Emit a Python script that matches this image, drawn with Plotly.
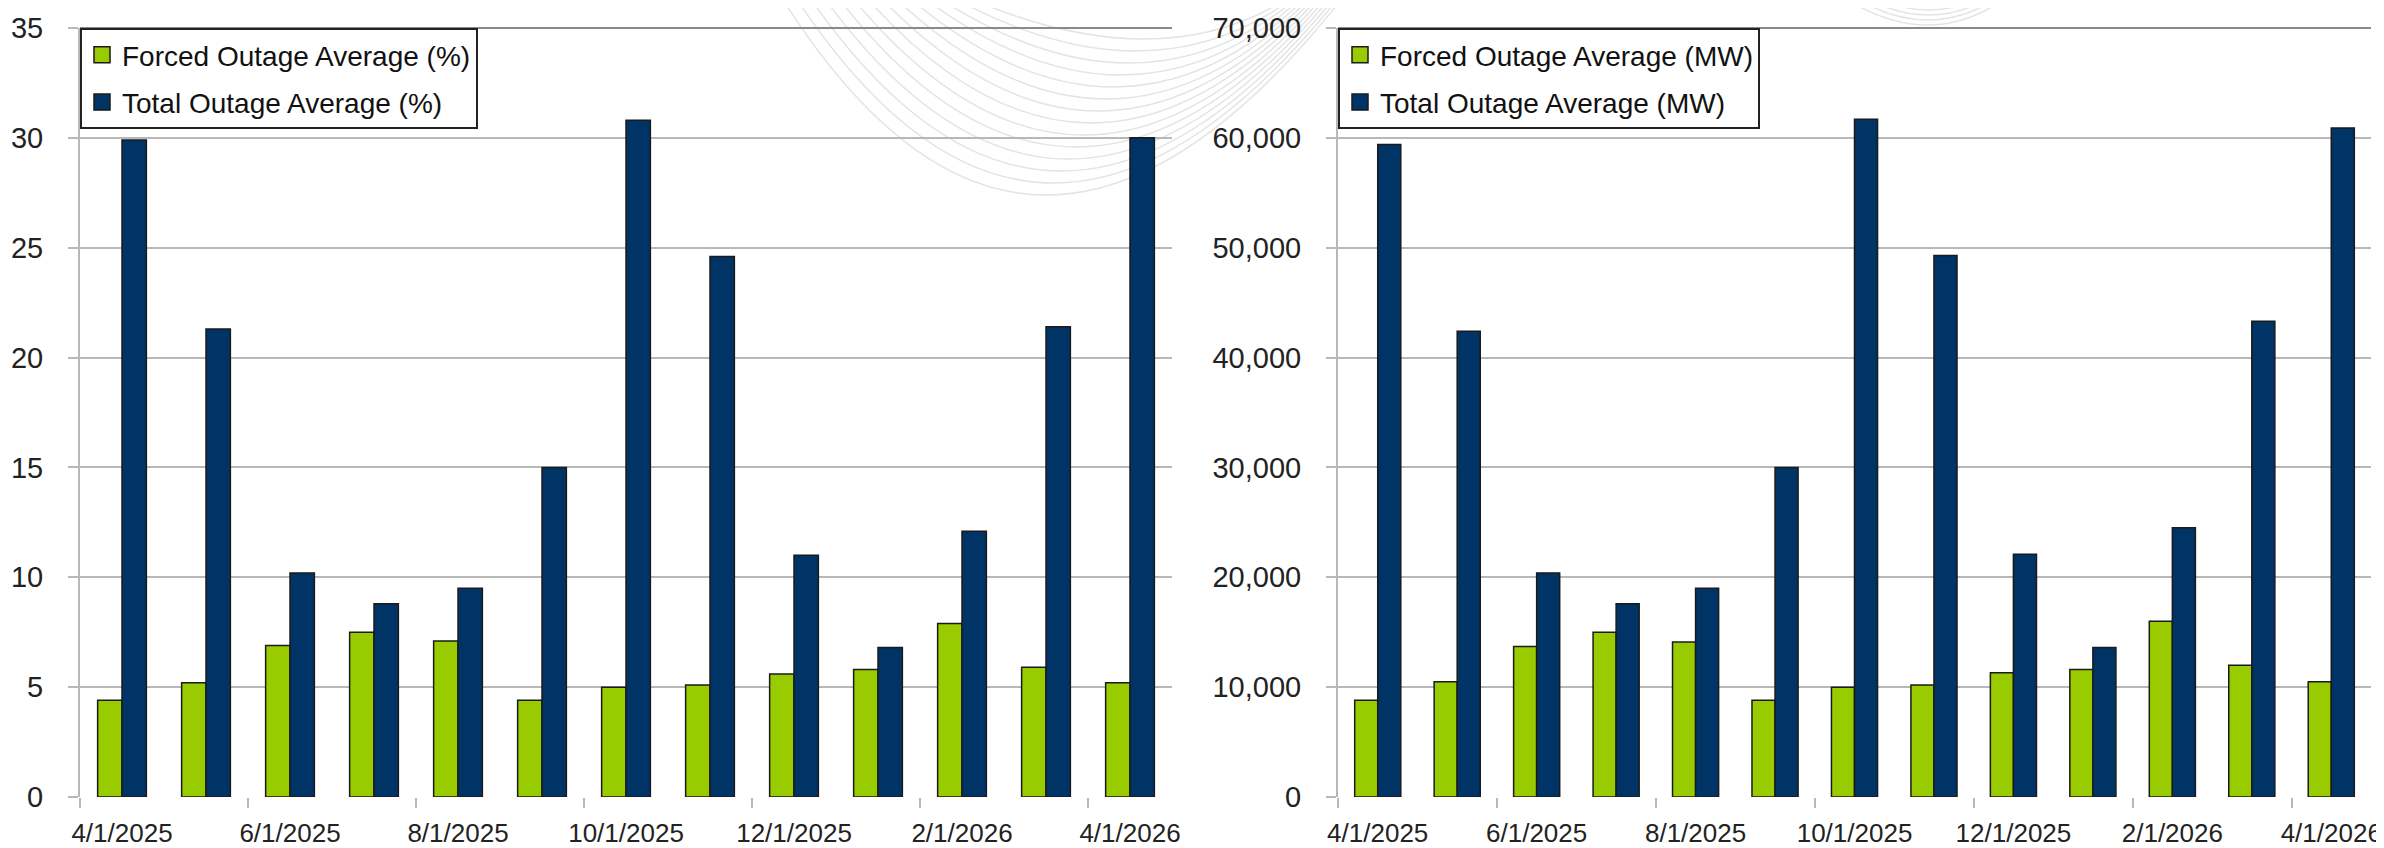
import plotly.graph_objects as go

months = ["4/1/2025", "5/1/2025", "6/1/2025", "7/1/2025", "8/1/2025", "9/1/2025",
          "10/1/2025", "11/1/2025", "12/1/2025", "1/1/2026", "2/1/2026", "3/1/2026", "4/1/2026"]

forced_pct = [4.4, 5.2, 6.9, 7.5, 7.1, 4.4, 5.0, 5.1, 5.6, 5.8, 7.9, 5.9, 5.2]
total_pct = [29.9, 21.3, 10.2, 8.8, 9.5, 15.0, 30.8, 24.6, 11.0, 6.8, 12.1, 21.4, 30.0]

forced_mw = [8800, 10500, 13700, 15000, 14100, 8800, 10000, 10200, 11300, 11600, 16000, 12000, 10500]
total_mw = [59400, 42400, 20400, 17600, 19000, 30000, 61700, 49300, 22100, 13600, 24500, 43300, 60900]

GREEN = "#99CC00"
NAVY = "#003366"
GRID = "#b8b8b8"
FONT = "Liberation Sans, Arial, sans-serif"

idx = list(range(len(months)))
tick_idx = idx[::2]
tick_txt = months[::2]
boundary = [i - 0.5 for i in tick_idx]

W, H = 2384, 848
OFF = 8  # page body margin
ml, mr, mt, mb = 80 - OFF, 13 + OFF, 28 - OFF, 51 + OFF
pw = W - ml - mr
ph = H - mt - mb
left_end = (1172 - OFF - ml) / pw
right_start = (1338 - OFF - ml) / pw

fig = go.Figure()
line = dict(color="#1a1a1a", width=1.5)
series = [
    (forced_pct, "Forced Outage Average (%)", GREEN, "x", "y", "legend"),
    (total_pct, "Total Outage Average (%)", NAVY, "x", "y", "legend"),
    (forced_mw, "Forced Outage Average (MW)", GREEN, "x2", "y2", "legend2"),
    (total_mw, "Total Outage Average (MW)", NAVY, "x2", "y2", "legend2"),
]
for k, (vals, name, col, xa, ya, lg) in enumerate(series):
    fig.add_trace(go.Bar(x=idx, y=vals, name=name, marker=dict(color=col, line=line),
                         xaxis=xa, yaxis=ya, showlegend=False))
    # legend proxy with a larger square swatch
    fig.add_trace(go.Scatter(x=[None], y=[None], mode="markers", name=name,
                             marker=dict(symbol="square", size=17, color=col, line=dict(color="#1a1a1a", width=1.5)),
                             xaxis=xa, yaxis=ya, legend=lg, legendgroup=f"g{k}", showlegend=True))

xcommon = dict(range=[-0.5, len(months) - 0.5], tickmode="array", tickvals=tick_idx, ticktext=tick_txt,
               ticks="", showgrid=False, showline=False, zeroline=False, ticklabelstandoff=18, automargin=False,
               tickfont=dict(size=26, color="#222222", family=FONT),
               minor=dict(tickmode="array", tickvals=boundary, ticks="outside", ticklen=10,
                          tickcolor=GRID, tickwidth=2, showgrid=False))
ycommon = dict(ticks="outside", ticklen=10, tickcolor=GRID, tickwidth=2, showgrid=True, gridcolor=GRID,
               gridwidth=2, showline=True, linecolor=GRID, linewidth=2, zeroline=False, ticklabelstandoff=19,
               automargin=False, tickfont=dict(size=29, color="#222222", family=FONT))

legcommon = dict(y=1, yanchor="top", xanchor="left", bgcolor="white", bordercolor="#222222", borderwidth=2,
                 font=dict(size=28, color="#111111", family=FONT), tracegroupgap=8, traceorder="grouped",
                 itemsizing="trace")

# faint decorative background arcs (watermark)
def px_to_paper(px, py):
    return ((px - OFF - ml) / pw, 1 - (py - OFF - mt) / ph)

shapes = []
for k in range(14):
    x0, y0 = px_to_paper(780 + 14 * k, -5)
    x1, y1 = px_to_paper(1345 - 4 * k, -5)
    cx, cy = px_to_paper(1030 + 10 * k, 395 - 24 * k)
    shapes.append(dict(type="path", xref="paper", yref="paper", layer="below",
                       path=f"M {x0} {y0} Q {cx} {cy} {x1} {y1}",
                       line=dict(color="#e4e4e4", width=1.5)))
for k in range(4):
    x0, y0 = px_to_paper(1840 + 10 * k, -5)
    x1, y1 = px_to_paper(2010 - 8 * k, -5)
    cx, cy = px_to_paper(1930, 55 - 10 * k)
    shapes.append(dict(type="path", xref="paper", yref="paper", layer="below",
                       path=f"M {x0} {y0} Q {cx} {cy} {x1} {y1}",
                       line=dict(color="#e4e4e4", width=1.5)))
# darker top frame line
for xr, yr in (("x domain", "y domain"), ("x2 domain", "y2 domain")):
    shapes.append(dict(type="line", xref=xr, yref=yr, x0=0, x1=1, y0=1, y1=1,
                       line=dict(color="#8a8a8a", width=2)))

fig.update_layout(
    width=W, height=H,
    margin=dict(l=ml, r=mr, t=mt, b=mb, autoexpand=False),
    paper_bgcolor="white", plot_bgcolor="rgba(0,0,0,0)",
    barmode="group", bargap=0.42, bargroupgap=0,
    xaxis=dict(domain=[0, left_end], anchor="y", **xcommon),
    yaxis=dict(domain=[0, 1], anchor="x", range=[0, 35], dtick=5, **ycommon),
    xaxis2=dict(domain=[right_start, 1], anchor="y2", **xcommon),
    yaxis2=dict(domain=[0, 1], anchor="x2", range=[0, 70000], dtick=10000, tickformat=",", **ycommon),
    legend=dict(x=0, **legcommon),
    legend2=dict(x=right_start, **legcommon),
    shapes=shapes,
    showlegend=True,
)

fig.write_html("out.html")
